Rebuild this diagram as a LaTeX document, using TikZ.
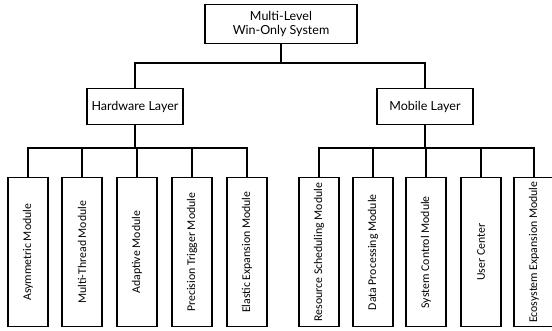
\documentclass[tikz,border=0pt]{standalone}
\usepackage{fontspec}
\setmainfont{Carlito}
\newfontfamily\topfont{Lato}
\begin{document}
\begin{tikzpicture}[x=1pt,y=-1pt,
  box/.style={draw=black,line width=1.4pt,fill=white,inner sep=0pt,anchor=north},
  topbox/.style={box,minimum width=152pt,minimum height=39pt,font=\topfont\fontsize{12.5}{14}\selectfont,align=center},
  midbox/.style={box,minimum width=96pt,minimum height=36pt,font=\topfont\fontsize{12.5}{14}\selectfont},
  modbox/.style={box,minimum width=40pt,minimum height=149pt},
  modtext/.style={rotate=90,font=\fontsize{11.8}{13}\selectfont},
  conn/.style={draw=black,line width=1.4pt}]
\useasboundingbox (0,0) rectangle (552,331);
\node[topbox] (top) at (281,4) {Multi-Level\\Win-Only System};
\node[midbox] (hw) at (135,88) {Hardware Layer};
\node[midbox] (mb) at (425,88) {Mobile Layer};
\draw[conn] (top.south) |- (281,63) coordinate (tj);
\draw[conn] (hw.north) |- (tj) -| (mb.north);
\foreach \n/\x/\t in {h1/28/Asymmetric Module,h2/82/Multi-Thread Module,h3/137/Adaptive Module,h4/192/Precision Trigger Module,h5/247/Elastic Expansion Module}{
  \node[modbox] (\n) at (\x,177) {};
  \node[modtext] at (\n.center) {\t};
}
\foreach \n/\x/\t in {m1/319/Resource Scheduling Module,m2/373/Data Processing Module,m3/426/System Control Module,m4/481/User Center,m5/534/Ecosystem Expansion Module}{
  \node[modbox] (\n) at (\x,177) {};
  \node[modtext] at (\n.center) {\t};
}
\coordinate (hj) at (135,148);
\coordinate (mj) at (425,148);
\draw[conn] (hw.south) -- (hj);
\draw[conn] (mb.south) -- (mj);
\draw[conn] (h1.north) |- (hj) -| (h5.north);
\foreach \n in {h2,h3,h4} \draw[conn] (\n.north) -- (\n.north |- hj);
\draw[conn] (m1.north) |- (mj) -| (m5.north);
\foreach \n in {m2,m3,m4} \draw[conn] (\n.north) -- (\n.north |- mj);
\end{tikzpicture}
\end{document}
